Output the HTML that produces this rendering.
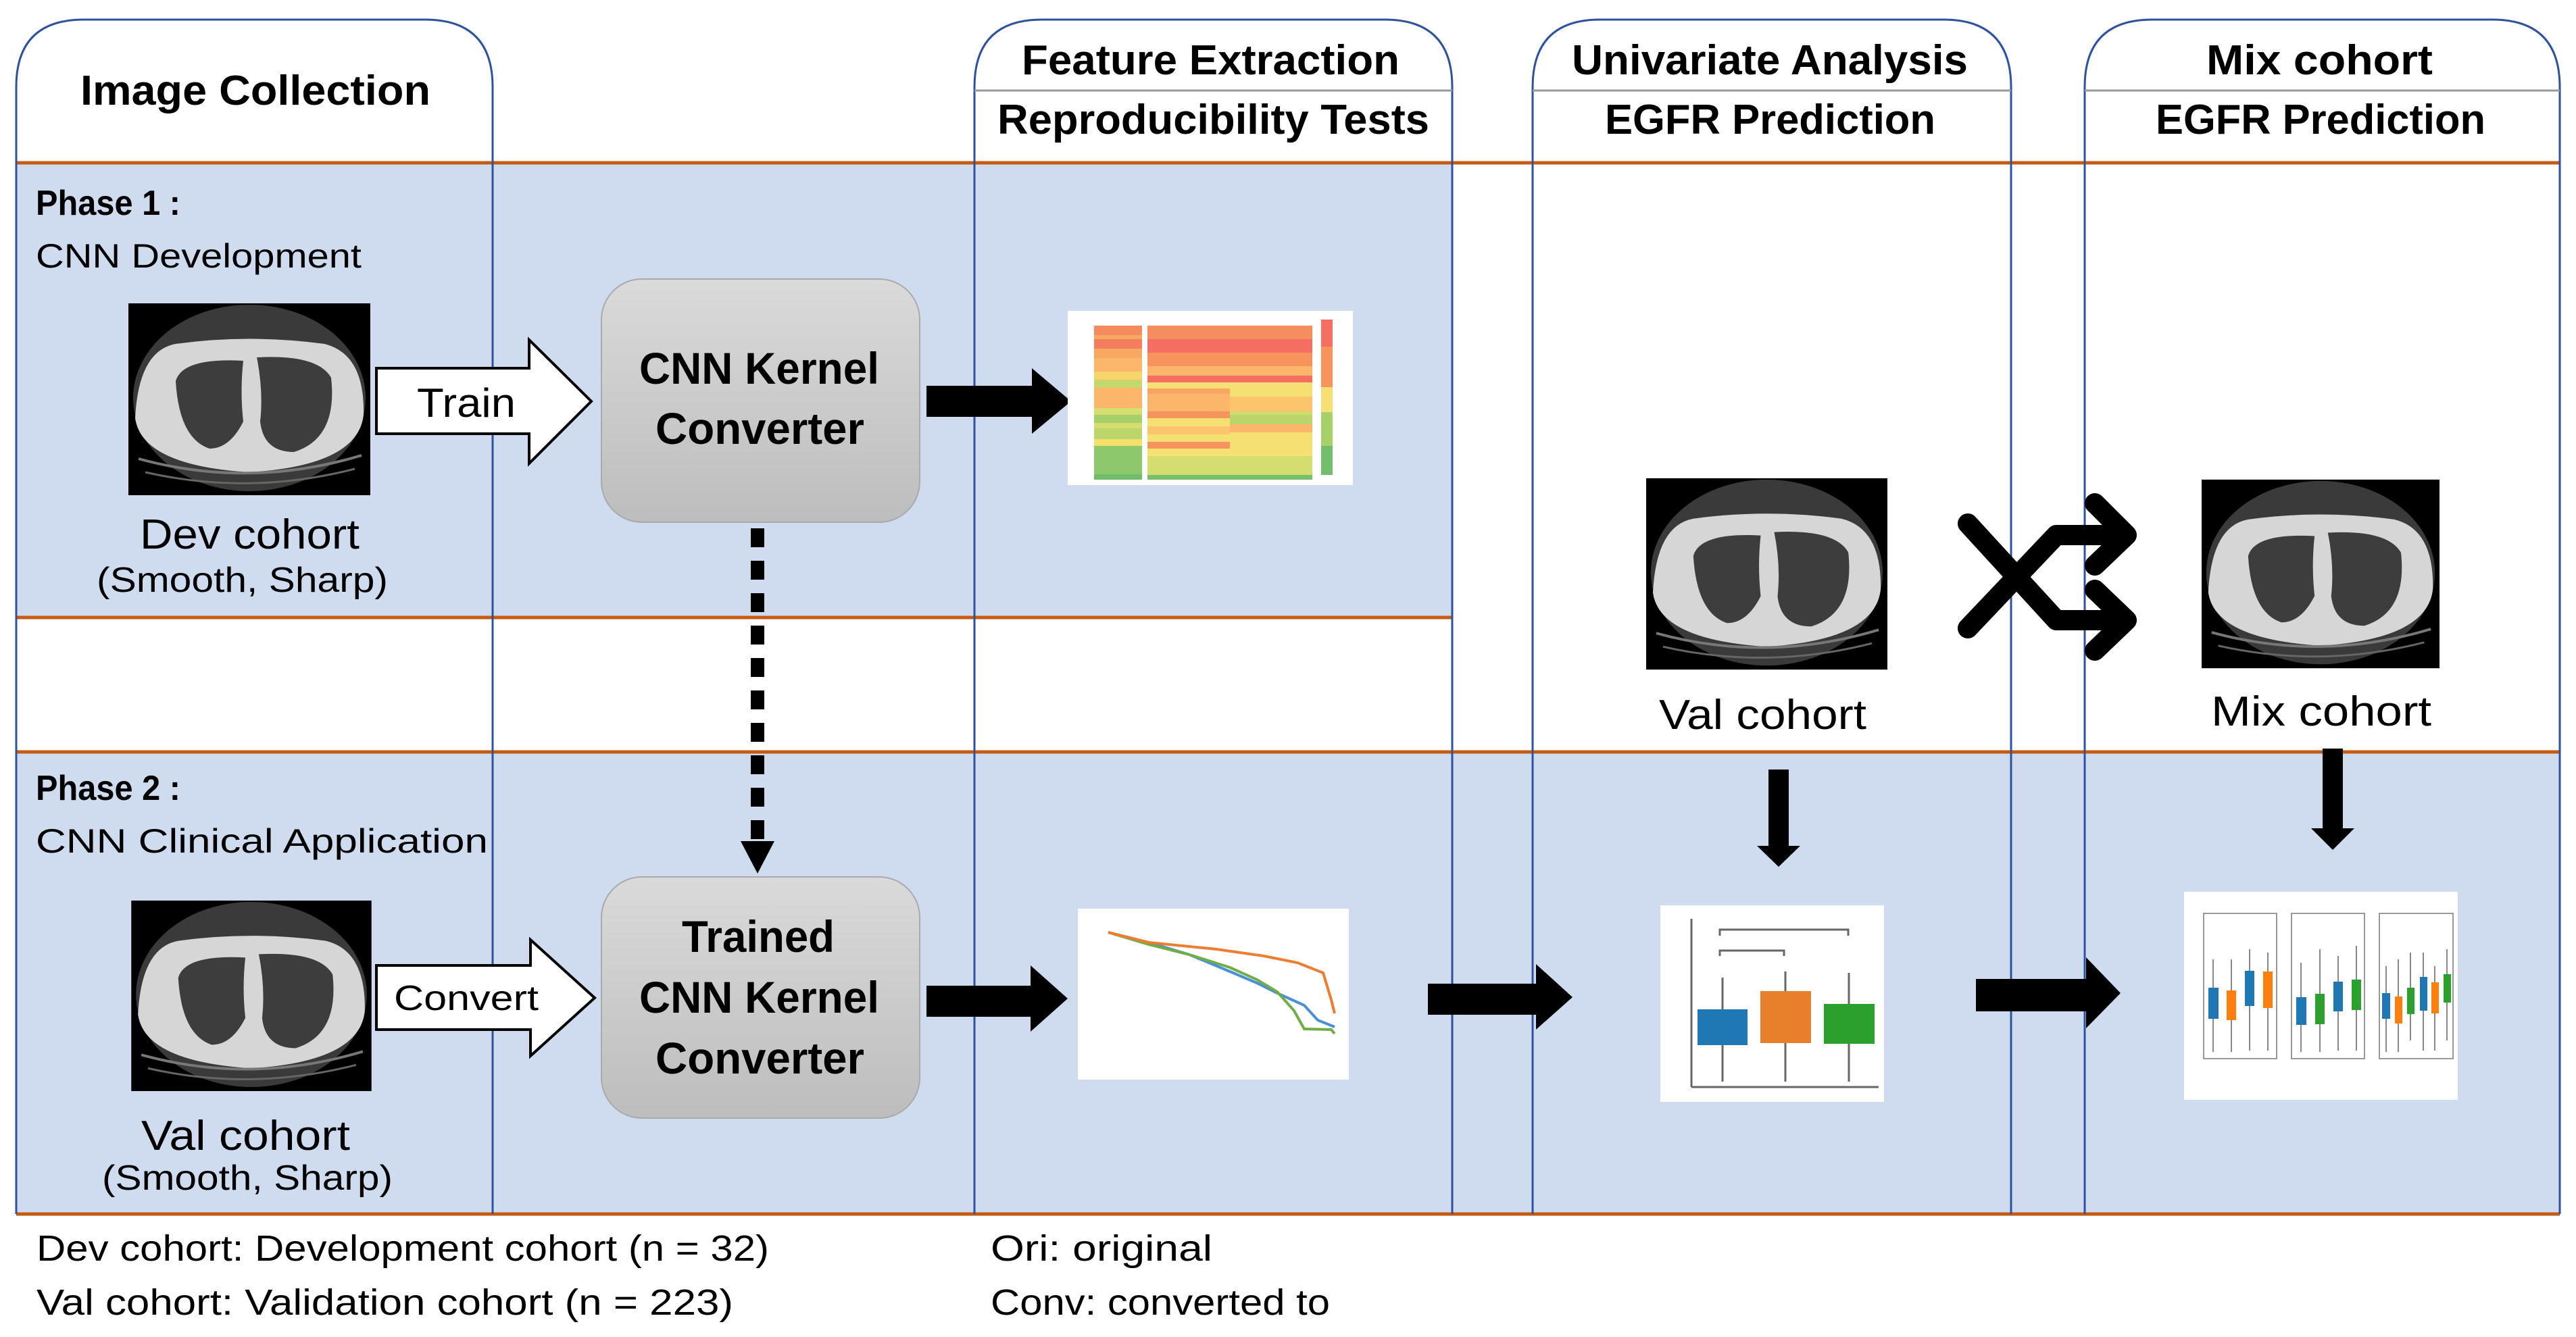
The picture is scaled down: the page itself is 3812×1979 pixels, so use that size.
<!DOCTYPE html>
<html><head><meta charset="utf-8"><style>html,body{margin:0;padding:0;background:#fff}svg{display:block}</style></head><body>
<svg xmlns="http://www.w3.org/2000/svg" width="3812" height="1979" viewBox="0 0 3812 1979" font-family="Liberation Sans, sans-serif">
<defs>
<linearGradient id="gb" x1="0" y1="0" x2="0" y2="1"><stop offset="0" stop-color="#dadada"/><stop offset="1" stop-color="#bdbdbd"/></linearGradient>
<symbol id="ct" viewBox="0 0 358 284">
<rect width="358" height="284" fill="#000"/>
<ellipse cx="179" cy="140" rx="172" ry="138" fill="#3a3a3a"/>
<path d="M10 170 Q15 70 70 60 Q179 45 290 60 Q350 75 348 165 Q340 240 179 250 Q20 240 10 170Z" fill="#d6d6d6"/>
<path d="M15 230 Q179 275 345 225" stroke="#777" stroke-width="4" fill="none"/>
<path d="M25 250 Q179 285 335 245" stroke="#666" stroke-width="3" fill="none"/>
<path d="M70 115 Q80 80 170 85 Q165 130 170 175 Q150 215 120 215 Q75 200 70 115Z" fill="#3d3d3d"/>
<path d="M190 80 Q280 75 300 110 Q310 200 245 220 Q200 220 195 175 Q200 130 190 80Z" fill="#3d3d3d"/>
</symbol>
</defs>

<!-- blue bands -->
<rect x="24" y="241" width="2125" height="673" fill="#cfdcf0"/>
<rect x="24" y="1113" width="3764" height="684" fill="#cfdcf0"/>

<!-- orange lines -->
<g stroke="#c55a11" stroke-width="5">
<line x1="24" y1="241" x2="3788" y2="241"/>
<line x1="24" y1="914" x2="2149" y2="914"/>
<line x1="24" y1="1113" x2="3788" y2="1113"/>
<line x1="24" y1="1797" x2="3788" y2="1797"/>
</g>

<!-- column outlines -->
<g stroke="#2f52a0" stroke-width="3" fill="none">
<path d="M24 1797 V129 Q24 29 124 29 H629 Q729 29 729 129 V1797"/>
<path d="M1442 1797 V129 Q1442 29 1542 29 H2049 Q2149 29 2149 129 V1797"/>
<path d="M2268 1797 V129 Q2268 29 2368 29 H2876 Q2976 29 2976 129 V1797"/>
<path d="M3085 1797 V129 Q3085 29 3185 29 H3688 Q3788 29 3788 129 V1797"/>
</g>
<g stroke="#999" stroke-width="3">
<line x1="1442" y1="134" x2="2149" y2="134"/>
<line x1="2268" y1="134" x2="2976" y2="134"/>
<line x1="3085" y1="134" x2="3788" y2="134"/>
</g>

<!-- headers -->
<g font-weight="bold" font-size="62" fill="#000" text-anchor="start">
<text x="119" y="155" textLength="518" lengthAdjust="spacingAndGlyphs">Image Collection</text>
<text x="1512" y="110" textLength="559" lengthAdjust="spacingAndGlyphs">Feature Extraction</text>
<text x="1476" y="198" textLength="639" lengthAdjust="spacingAndGlyphs">Reproducibility Tests</text>
<text x="2326" y="110" textLength="586" lengthAdjust="spacingAndGlyphs">Univariate Analysis</text>
<text x="2375" y="198" textLength="489" lengthAdjust="spacingAndGlyphs">EGFR Prediction</text>
<text x="3265" y="110" textLength="335" lengthAdjust="spacingAndGlyphs">Mix cohort</text>
<text x="3190" y="198" textLength="488" lengthAdjust="spacingAndGlyphs">EGFR Prediction</text>
</g>

<!-- phase labels -->
<text x="53" y="318" font-size="52" font-weight="bold" textLength="214" lengthAdjust="spacingAndGlyphs">Phase 1 :</text>
<text x="53" y="396" font-size="50" textLength="482" lengthAdjust="spacingAndGlyphs">CNN Development</text>
<text x="53" y="1184" font-size="52" font-weight="bold" textLength="214" lengthAdjust="spacingAndGlyphs">Phase 2 :</text>
<text x="53" y="1262" font-size="50" textLength="669" lengthAdjust="spacingAndGlyphs">CNN Clinical Application</text>

<!-- CT images -->
<use href="#ct" x="190" y="449" width="358" height="284"/>
<use href="#ct" x="194" y="1333" width="356" height="282"/>
<use href="#ct" x="2436" y="707" width="357" height="285"/>
<use href="#ct" x="3258" y="707" width="352" height="285"/>

<text x="207" y="812" font-size="62" textLength="325" lengthAdjust="spacingAndGlyphs">Dev cohort</text>
<text x="143" y="876" font-size="52" textLength="431" lengthAdjust="spacingAndGlyphs">(Smooth, Sharp)</text>
<text x="209" y="1702" font-size="62" textLength="309" lengthAdjust="spacingAndGlyphs">Val cohort</text>
<text x="151" y="1761" font-size="52" textLength="430" lengthAdjust="spacingAndGlyphs">(Smooth, Sharp)</text>
<text x="2455" y="1079" font-size="62" textLength="307" lengthAdjust="spacingAndGlyphs">Val cohort</text>
<text x="3272" y="1074" font-size="62" textLength="326" lengthAdjust="spacingAndGlyphs">Mix cohort</text>

<!-- white block arrows -->
<path d="M557 545 H783 V503 L875 594 L783 686 V642 H557 Z" fill="#fff" stroke="#000" stroke-width="4"/>
<text x="617" y="617" font-size="60" textLength="146" lengthAdjust="spacingAndGlyphs">Train</text>
<path d="M557 1429 H785 V1391 L880 1477 L785 1563 V1524 H557 Z" fill="#fff" stroke="#000" stroke-width="4"/>
<text x="583" y="1495" font-size="52" textLength="214" lengthAdjust="spacingAndGlyphs">Convert</text>

<!-- boxes -->
<rect x="890" y="413" width="471" height="360" rx="60" fill="url(#gb)" stroke="#aaa" stroke-width="2"/>
<g font-weight="bold" font-size="66" text-anchor="start">
<text x="946" y="568" textLength="355" lengthAdjust="spacingAndGlyphs">CNN Kernel</text>
<text x="970" y="657" textLength="309" lengthAdjust="spacingAndGlyphs">Converter</text>
</g>
<rect x="890" y="1298" width="471" height="357" rx="60" fill="url(#gb)" stroke="#aaa" stroke-width="2"/>
<g font-weight="bold" font-size="66">
<text x="1009" y="1409" textLength="226" lengthAdjust="spacingAndGlyphs">Trained</text>
<text x="946" y="1499" textLength="355" lengthAdjust="spacingAndGlyphs">CNN Kernel</text>
<text x="970" y="1589" textLength="309" lengthAdjust="spacingAndGlyphs">Converter</text>
</g>

<!-- dotted -->
<line x1="1121" y1="782" x2="1121" y2="1245" stroke="#000" stroke-width="20" stroke-dasharray="28 20"/>
<path d="M1096 1245 H1146 L1121 1293 Z" fill="#000"/>

<!-- black arrows -->
<g fill="#000">
<path d="M1371 571 H1527 V545 L1585 594 L1527 642 V617 H1371 Z"/>
<path d="M1371 1459 H1525 V1429 L1580 1478 L1525 1527 V1505 H1371 Z"/>
<path d="M2113 1456 H2273 V1427 L2327 1476 L2273 1524 V1502 H2113 Z"/>
<path d="M2924 1449 H3087 V1417 L3138 1470 L3087 1522 V1497 H2924 Z"/>
<path d="M2617 1139 H2647 V1252 H2664 L2632 1283 L2600 1252 H2617 Z"/>
<path d="M3437 1108 H3467 V1226 H3484 L3452 1258 L3420 1226 H3437 Z"/>
</g>

<!-- shuffle icon -->
<g stroke="#000" stroke-width="30" fill="none" stroke-linecap="round" stroke-linejoin="round">
<path d="M2912 775 L3043 918 H3140"/>
<path d="M2912 930 L3043 792 H3140"/>
<path d="M3100 745 L3147 792 L3100 837"/>
<path d="M3100 873 L3147 918 L3100 963"/>
</g>

<!-- heatmap -->
<rect x="1580" y="460" width="422" height="258" fill="#fff"/>
<g>
<rect x="1619" y="482" width="71" height="228" fill="#f7a862"/>
<rect x="1619" y="482" width="71" height="14" fill="#f58a5c"/>
<rect x="1619" y="502" width="71" height="14" fill="#f47d5d"/>
<rect x="1619" y="530" width="71" height="20" fill="#fbb66a"/>
<rect x="1619" y="550" width="71" height="12" fill="#f9d46b"/>
<rect x="1619" y="562" width="71" height="12" fill="#c6d86c"/>
<rect x="1619" y="574" width="71" height="30" fill="#fbb66a"/>
<rect x="1619" y="604" width="71" height="30" fill="#d5de6e"/>
<rect x="1619" y="614" width="71" height="12" fill="#a7d06b"/>
<rect x="1619" y="634" width="71" height="16" fill="#bcd66c"/>
<rect x="1619" y="650" width="71" height="10" fill="#f6e06c"/>
<rect x="1619" y="660" width="71" height="50" fill="#8cc86c"/>
<rect x="1619" y="702" width="71" height="8" fill="#6fbd6a"/>

<rect x="1698" y="482" width="244" height="228" fill="#f6df73"/>
<rect x="1698" y="482" width="244" height="20" fill="#f68d5e"/>
<rect x="1698" y="502" width="244" height="20" fill="#f46f61"/>
<rect x="1698" y="522" width="244" height="20" fill="#f7935d"/>
<rect x="1698" y="542" width="244" height="14" fill="#fbb66a"/>
<rect x="1698" y="556" width="244" height="10" fill="#f46f61"/>
<rect x="1698" y="575" width="122" height="12" fill="#f8a463"/>
<rect x="1698" y="587" width="244" height="22" fill="#fbc46d"/>
<rect x="1698" y="583" width="122" height="26" fill="#fbb66a"/>
<rect x="1698" y="609" width="122" height="10" fill="#f7935d"/>
<rect x="1820" y="609" width="122" height="10" fill="#cfdc6e"/>
<rect x="1698" y="631" width="122" height="12" fill="#fbc46d"/>
<rect x="1820" y="614" width="122" height="14" fill="#b9d56c"/>
<rect x="1820" y="628" width="122" height="12" fill="#fbb66a"/>
<rect x="1698" y="654" width="122" height="10" fill="#f7935d"/>
<rect x="1698" y="675" width="244" height="28" fill="#d4dd6f"/>
<rect x="1698" y="703" width="244" height="7" fill="#76c06b"/>
<rect x="1955" y="473" width="17" height="230" fill="#f6df73"/>
<rect x="1955" y="473" width="17" height="100" fill="#f7935d"/>
<rect x="1955" y="473" width="17" height="40" fill="#f46f61"/>
<rect x="1955" y="610" width="17" height="93" fill="#a7d06b"/>
<rect x="1955" y="660" width="17" height="43" fill="#72be6e"/>
</g>

<!-- line chart -->
<rect x="1595" y="1345" width="401" height="253" fill="#fff"/>
<g fill="none" stroke-width="4">
<path d="M1640 1380 L1700 1395 L1760 1413 L1820 1438 L1860 1455 L1890 1470 L1930 1488 L1950 1510 L1975 1520" stroke="#4a90d9"/>
<path d="M1640 1380 L1700 1398 L1760 1413 L1820 1432 L1860 1450 L1890 1468 L1915 1496 L1930 1523 L1970 1524 L1975 1530" stroke="#70ad47"/>
<path d="M1640 1380 L1700 1395 L1800 1405 L1870 1415 L1920 1425 L1958 1440 L1970 1480 L1975 1500" stroke="#ed7d31"/>
</g>

<!-- univariate boxplot -->
<rect x="2457" y="1340" width="331" height="291" fill="#fff"/>
<g stroke="#666" stroke-width="3" fill="none">
<line x1="2503" y1="1360" x2="2503" y2="1609"/><line x1="2503" y1="1609" x2="2780" y2="1609"/>
<line x1="2549" y1="1447" x2="2549" y2="1601"/><line x1="2642" y1="1438" x2="2642" y2="1601"/><line x1="2736" y1="1440" x2="2736" y2="1601"/>
<path d="M2545 1385 V1376 H2735 V1385 M2545 1415 V1407 H2640 V1415"/>
</g>
<rect x="2512" y="1494" width="74" height="53" fill="#1f77b4"/>
<rect x="2605" y="1467" width="75" height="77" fill="#e6802a"/>
<rect x="2699" y="1486" width="75" height="59" fill="#2ca02c"/>

<!-- mix boxplot -->
<rect x="3232" y="1320" width="405" height="308" fill="#fff"/>
<g stroke="#999" stroke-width="2" fill="none">
<rect x="3261" y="1352" width="108" height="215"/><rect x="3391" y="1352" width="108" height="215"/><rect x="3521" y="1352" width="109" height="215"/>
</g>
<g stroke="#888" stroke-width="2">
<line x1="3275" y1="1420" x2="3275" y2="1557"/><line x1="3302" y1="1420" x2="3302" y2="1557"/><line x1="3329" y1="1405" x2="3329" y2="1555"/><line x1="3356" y1="1410" x2="3356" y2="1555"/>
<line x1="3405" y1="1425" x2="3405" y2="1557"/><line x1="3433" y1="1405" x2="3433" y2="1557"/><line x1="3460" y1="1415" x2="3460" y2="1555"/><line x1="3487" y1="1400" x2="3487" y2="1555"/>
<line x1="3531" y1="1430" x2="3531" y2="1557"/><line x1="3549" y1="1420" x2="3549" y2="1557"/><line x1="3567" y1="1410" x2="3567" y2="1540"/><line x1="3586" y1="1410" x2="3586" y2="1555"/><line x1="3603" y1="1430" x2="3603" y2="1555"/><line x1="3621" y1="1405" x2="3621" y2="1540"/>
</g>
<rect x="3268" y="1462" width="15" height="46" fill="#1f77b4"/><rect x="3295" y="1466" width="14" height="44" fill="#ff7f0e"/>
<rect x="3322" y="1437" width="14" height="52" fill="#1f77b4"/><rect x="3349" y="1438" width="14" height="54" fill="#ff7f0e"/>
<rect x="3398" y="1476" width="15" height="41" fill="#1f77b4"/><rect x="3426" y="1471" width="14" height="45" fill="#2ca02c"/>
<rect x="3453" y="1453" width="14" height="44" fill="#1f77b4"/><rect x="3480" y="1450" width="14" height="45" fill="#2ca02c"/>
<rect x="3525" y="1470" width="12" height="38" fill="#1f77b4"/><rect x="3544" y="1475" width="11" height="40" fill="#ff7f0e"/>
<rect x="3562" y="1462" width="11" height="39" fill="#2ca02c"/><rect x="3581" y="1446" width="11" height="50" fill="#1f77b4"/>
<rect x="3598" y="1454" width="11" height="46" fill="#ff7f0e"/><rect x="3616" y="1442" width="11" height="42" fill="#2ca02c"/>

<!-- footer -->
<g font-size="54">
<text x="54" y="1866" textLength="1084" lengthAdjust="spacingAndGlyphs">Dev cohort: Development cohort (n = 32)</text>
<text x="54" y="1946" textLength="1031" lengthAdjust="spacingAndGlyphs">Val cohort: Validation cohort (n = 223)</text>
<text x="1466" y="1866" textLength="328" lengthAdjust="spacingAndGlyphs">Ori: original</text>
<text x="1466" y="1946" textLength="502" lengthAdjust="spacingAndGlyphs">Conv: converted to</text>
</g>
</svg>
</body></html>
